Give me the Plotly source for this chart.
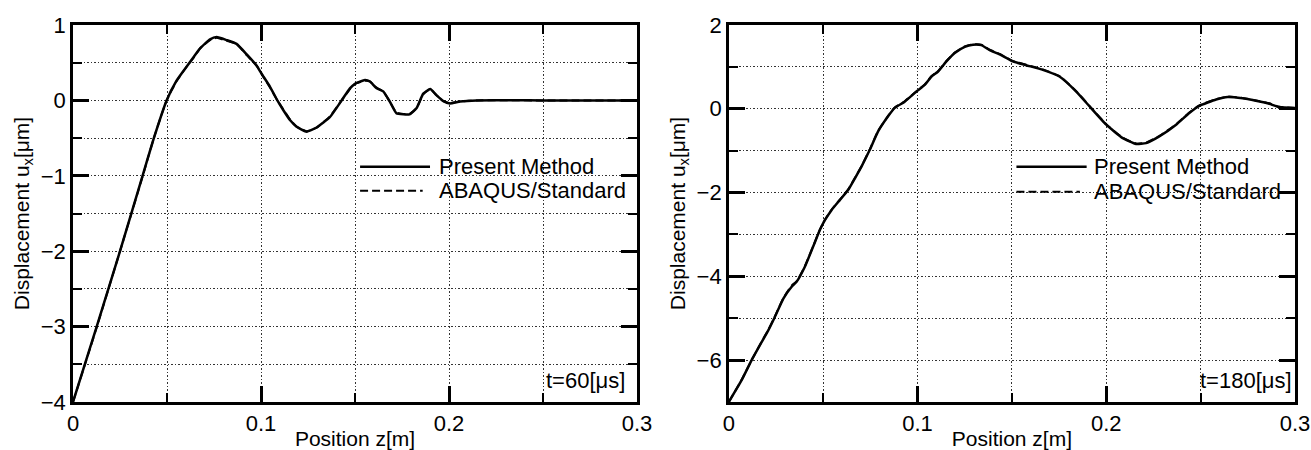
import plotly.graph_objects as go

# ---------------- data ----------------
z_60 = [0.0, 0.0126, 0.025, 0.037, 0.043, 0.0498, 0.055, 0.0605, 0.064, 0.0676,
        0.0729, 0.0764, 0.0817, 0.087, 0.0924, 0.0977, 0.1004, 0.1048, 0.1087,
        0.1119, 0.1154, 0.119, 0.1243, 0.1296, 0.1367, 0.1429, 0.1473, 0.150,
        0.1553, 0.158, 0.1615, 0.165, 0.1686, 0.172, 0.1757, 0.179, 0.1828,
        0.1863, 0.190, 0.1933, 0.197, 0.2005, 0.2059, 0.2147, 0.25, 0.30]
u_60_present = [-4.0, -3.0, -2.0, -1.0, -0.5, 0.0, 0.26, 0.45, 0.57, 0.69,
                0.81, 0.84, 0.80, 0.75, 0.61, 0.46, 0.35, 0.18, 0.0,
                -0.13, -0.26, -0.35, -0.415, -0.36, -0.22, 0.0, 0.16, 0.22,
                0.27, 0.25, 0.16, 0.12, -0.02, -0.17, -0.185, -0.185, -0.10,
                0.09, 0.15, 0.07, -0.01, -0.04, -0.015, 0.0, 0.0, 0.0]
u_60_abaqus = [-4.0, -3.01, -2.0, -1.01, -0.5, 0.0, 0.25, 0.45, 0.56, 0.69,
               0.80, 0.83, 0.79, 0.75, 0.60, 0.46, 0.35, 0.17, 0.0,
               -0.12, -0.25, -0.35, -0.41, -0.36, -0.21, 0.0, 0.15, 0.22,
               0.26, 0.25, 0.17, 0.12, -0.02, -0.16, -0.18, -0.18, -0.10,
               0.08, 0.15, 0.07, -0.01, -0.035, -0.015, 0.0, 0.0, 0.0]

z_180 = [0.0, 0.0068, 0.0121, 0.0174, 0.0209, 0.0244, 0.0289, 0.0333, 0.0359,
         0.0403, 0.0447, 0.0483, 0.0509, 0.0544, 0.0588, 0.0632, 0.0668, 0.0703,
         0.0747, 0.0791, 0.0844, 0.0879, 0.0932, 0.0994, 0.1038, 0.1074, 0.1109,
         0.1153, 0.1197, 0.125, 0.1294, 0.1338, 0.1382, 0.1435, 0.150, 0.1576,
         0.1664, 0.1752, 0.1841, 0.1911, 0.200, 0.2087, 0.2158, 0.2211, 0.2281,
         0.237, 0.244, 0.2493, 0.2582, 0.2643, 0.2722, 0.2793, 0.2864, 0.2916, 0.30]
u_180_present = [-7.0, -6.48, -6.0, -5.57, -5.29, -4.97, -4.53, -4.25, -4.13,
                 -3.77, -3.29, -2.89, -2.66, -2.42, -2.18, -1.94, -1.66, -1.38,
                 -0.98, -0.54, -0.18, 0.02, 0.17, 0.41, 0.57, 0.77, 0.89,
                 1.13, 1.33, 1.48, 1.53, 1.52, 1.40, 1.30, 1.14, 1.04,
                 0.93, 0.77, 0.41, 0.06, -0.38, -0.70, -0.84, -0.82, -0.66,
                 -0.38, -0.10, 0.07, 0.22, 0.28, 0.25, 0.19, 0.12, 0.04, 0.02]
u_180_abaqus = [-7.0, -6.47, -6.0, -5.56, -5.28, -4.96, -4.52, -4.22, -4.12,
                -3.76, -3.28, -2.88, -2.65, -2.41, -2.17, -1.93, -1.65, -1.37,
                -0.97, -0.53, -0.17, 0.03, 0.18, 0.42, 0.58, 0.78, 0.90,
                1.14, 1.34, 1.49, 1.54, 1.53, 1.41, 1.31, 1.15, 1.05,
                0.94, 0.78, 0.42, 0.07, -0.37, -0.69, -0.83, -0.81, -0.65,
                -0.37, -0.09, 0.08, 0.23, 0.29, 0.26, 0.20, 0.13, 0.05, 0.02]

series_names = ["Present Method", "ABAQUS/Standard"]
time_labels = ["t=60[μs]", "t=180[μs]"]
x_title = "Position z[m]"
y_title = "Displacement u<sub>x</sub>[μm]"

FONT = "Liberation Sans, Arial, Helvetica, sans-serif"

fig = go.Figure()

# dashed first, solid on top
fig.add_trace(go.Scatter(x=z_60, y=u_60_abaqus, mode="lines", name=series_names[1],
                         line=dict(color="black", width=2, dash="8px,4px", shape="spline", smoothing=0.45),
                         xaxis="x", yaxis="y", showlegend=False))
fig.add_trace(go.Scatter(x=z_60, y=u_60_present, mode="lines", name=series_names[0],
                         line=dict(color="black", width=2.5, shape="spline", smoothing=0.45),
                         xaxis="x", yaxis="y", showlegend=False))
fig.add_trace(go.Scatter(x=z_180, y=u_180_abaqus, mode="lines", name=series_names[1],
                         line=dict(color="black", width=2, dash="8px,4px", shape="spline", smoothing=0.45),
                         xaxis="x2", yaxis="y2", showlegend=False))
fig.add_trace(go.Scatter(x=z_180, y=u_180_present, mode="lines", name=series_names[0],
                         line=dict(color="black", width=2.5, shape="spline", smoothing=0.45),
                         xaxis="x2", yaxis="y2", showlegend=False))

grid = dict(showgrid=True, gridcolor="#333333", griddash="1.5px,2px", gridwidth=1)


def xaxis(domain, anchor):
    return dict(domain=domain, anchor=anchor, range=[0, 0.3], tick0=0, dtick=0.1,
                ticks="inside", ticklen=16, tickwidth=2.5, tickcolor="black",
                showline=True, linewidth=2.5, linecolor="black", mirror="allticks",
                zeroline=False, **grid,
                minor=dict(dtick=0.05, ticks="inside", ticklen=9, tickwidth=2,
                           tickcolor="black", **grid),
                tickfont=dict(family=FONT, size=22, color="black"),
                title=dict(text=x_title, font=dict(family=FONT, size=21, color="black"),
                           standoff=0))


def yaxis(domain, anchor, rng, dtick, minor):
    return dict(domain=domain, anchor=anchor, range=rng, tick0=0, dtick=dtick,
                ticks="inside", ticklen=16, tickwidth=2.5, tickcolor="black",
                showline=True, linewidth=2.5, linecolor="black", mirror="allticks",
                zeroline=False, **grid,
                minor=dict(dtick=minor, ticks="inside", ticklen=9, tickwidth=2,
                           tickcolor="black", **grid),
                tickfont=dict(family=FONT, size=22, color="black"),
                title=dict(text=y_title, font=dict(family=FONT, size=21, color="black"),
                           standoff=6))


W, H = 1311, 450
L, R, T, B = 73, 16, 25, 48
pw = W - L - R
left_dom = [0, (637 - L) / pw]
right_dom = [(728.8 - L) / pw, 1]

shapes = []
annotations = []
legend_pos = [
    # xref, yref, x0, x1(solid), x1(dash), text x, y solid, y dash
    ("x domain", "y domain", 0.509, 0.633, 0.620, 0.645, 0.624, 0.5605),
    ("x2 domain", "y2 domain", 0.508, 0.632, 0.620, 0.641, 0.624, 0.558),
]
for (xr, yr, x0, x1s, x1d, xt, ys, yd) in legend_pos:
    shapes.append(dict(type="line", xref=xr, yref=yr, x0=x0, x1=x1s, y0=ys, y1=ys,
                       line=dict(color="black", width=2.5)))
    shapes.append(dict(type="line", xref=xr, yref=yr, x0=x0, x1=x1d, y0=yd, y1=yd,
                       line=dict(color="black", width=2, dash="8px,4px")))
    annotations.append(dict(xref=xr, yref=yr, x=xt, y=ys, text=series_names[0],
                            showarrow=False, xanchor="left", yanchor="middle",
                            font=dict(family=FONT, size=22, color="black")))
    annotations.append(dict(xref=xr, yref=yr, x=xt, y=yd, text=series_names[1],
                            showarrow=False, xanchor="left", yanchor="middle",
                            font=dict(family=FONT, size=22, color="black")))

annotations.append(dict(xref="x domain", yref="y domain", x=0.983, y=0.058,
                        text=time_labels[0], showarrow=False, xanchor="right",
                        yanchor="middle",
                        font=dict(family=FONT, size=22, color="black")))
annotations.append(dict(xref="x2 domain", yref="y2 domain", x=0.999, y=0.058,
                        text=time_labels[1], showarrow=False, xanchor="right",
                        yanchor="middle",
                        font=dict(family=FONT, size=22, color="black")))

fig.update_layout(
    width=W, height=H,
    margin=dict(l=L, r=R, t=T, b=B, autoexpand=False),
    paper_bgcolor="white", plot_bgcolor="white",
    xaxis=xaxis(left_dom, "y"),
    yaxis=yaxis([0, 1], "x", [-4, 1], 1, 0.5),
    xaxis2=xaxis(right_dom, "y2"),
    yaxis2=yaxis([0, 1], "x2", [-7, 2], 2, 1),
    shapes=shapes,
    annotations=annotations,
    showlegend=False,
)

fig.write_html("out.html")
